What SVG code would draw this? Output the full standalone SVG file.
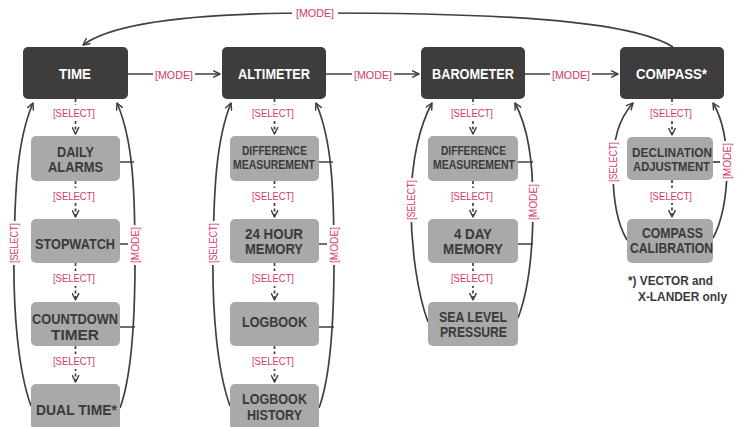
<svg xmlns="http://www.w3.org/2000/svg" width="738" height="427" viewBox="0 0 738 427">
<defs>
<marker id="arr" viewBox="0 0 10 10" refX="9" refY="5" markerWidth="8" markerHeight="8" markerUnits="userSpaceOnUse" orient="auto">
<path d="M1,1 L9,5 L1,9" fill="none" stroke="#404040" stroke-width="1.8" stroke-linecap="round" stroke-linejoin="round"/>
</marker>
<style>
.main{fill:#3e3c3d}
.sub{fill:#a9a9a9}
.mt{font-family:"Liberation Sans",Arial,sans-serif;font-weight:bold;font-size:15px;fill:#ffffff}
.st{font-family:"Liberation Sans",Arial,sans-serif;font-weight:bold;font-size:14.5px;fill:#3a3a3a}
.ss{font-family:"Liberation Sans",Arial,sans-serif;font-weight:bold;font-size:13px;fill:#3a3a3a}
.fn{font-family:"Liberation Sans",Arial,sans-serif;font-weight:bold;font-size:13px;fill:#3a3a3a}
.lb{font-family:"Liberation Sans",Arial,sans-serif;font-size:11.5px;fill:#d4376c}
.ln{fill:none;stroke:#404040;stroke-width:1.7}
.dl{fill:none;stroke:#404040;stroke-width:1.7;stroke-dasharray:3 2.5}
.bg{fill:#ffffff}
</style>
</defs>
<rect width="738" height="427" fill="#ffffff"/>

<g id="connectors">
<path class="ln" d="M673 47 C630 20, 500 13, 315 13 C180 13, 110 25, 83 45" marker-end="url(#arr)"/>
<path class="ln" d="M128 74 L220 74" marker-end="url(#arr)"/>
<path class="ln" d="M326 74 L419 74" marker-end="url(#arr)"/>
<path class="ln" d="M525 74 L618 74" marker-end="url(#arr)"/>
<!-- TIME column -->
<path class="ln" d="M31 406 C18 370, 13 310, 14 250 C15 190, 17 140, 33 103" marker-end="url(#arr)"/>
<path class="ln" d="M120 408 C131 378, 135 320, 135 260 C135 190, 133 140, 117 103" marker-end="url(#arr)"/>
<path class="ln" d="M120 162 H134 M120 244 H135 M120 327 H135"/>
<path class="dl" d="M75.5 99 V134" marker-end="url(#arr)"/>
<path class="dl" d="M75.5 181 V217" marker-end="url(#arr)"/>
<path class="dl" d="M75.5 263 V300" marker-end="url(#arr)"/>
<path class="dl" d="M75.5 346 V382" marker-end="url(#arr)"/>
<!-- ALTIMETER column -->
<path class="ln" d="M230 406 C217 370, 212 310, 213 250 C214 190, 216 140, 231 103" marker-end="url(#arr)"/>
<path class="ln" d="M319 408 C330 378, 334 320, 334 260 C334 190, 332 140, 316 103" marker-end="url(#arr)"/>
<path class="ln" d="M319 162 H333 M319 244 H334 M319 327 H334"/>
<path class="dl" d="M274.5 99 V134" marker-end="url(#arr)"/>
<path class="dl" d="M274.5 181 V217" marker-end="url(#arr)"/>
<path class="dl" d="M274.5 263 V300" marker-end="url(#arr)"/>
<path class="dl" d="M274.5 346 V382" marker-end="url(#arr)"/>
<!-- BAROMETER column -->
<path class="ln" d="M428 322 C418 295, 411 250, 411 205 C411 160, 420 125, 432 103" marker-end="url(#arr)"/>
<path class="ln" d="M518 318 C528 292, 533 250, 533 205 C533 160, 528 128, 515 103" marker-end="url(#arr)"/>
<path class="ln" d="M518 162 H533 M518 244 H533"/>
<path class="dl" d="M473 99 V134" marker-end="url(#arr)"/>
<path class="dl" d="M473 181 V217" marker-end="url(#arr)"/>
<path class="dl" d="M473 263 V300" marker-end="url(#arr)"/>
<!-- COMPASS column -->
<path class="ln" d="M627 240 C618 225, 613 200, 613 170 C613 140, 618 120, 633 103" marker-end="url(#arr)"/>
<path class="ln" d="M713 238 C722 222, 727 195, 727 168 C727 140, 723 120, 713 103" marker-end="url(#arr)"/>
<path class="ln" d="M713 162 H727"/>
<path class="dl" d="M672 99 V135" marker-end="url(#arr)"/>
<path class="dl" d="M672 180 V217" marker-end="url(#arr)"/>

<rect class="bg" x="292" y="5" width="46" height="15"/>
<text class="lb" x="296" y="17" textLength="38" lengthAdjust="spacingAndGlyphs">[MODE]</text>
<rect class="bg" x="153" y="66" width="42" height="15"/>
<text class="lb" x="155" y="78.5" textLength="38" lengthAdjust="spacingAndGlyphs">[MODE]</text>
<rect class="bg" x="352" y="66" width="42" height="15"/>
<text class="lb" x="354" y="78.5" textLength="38" lengthAdjust="spacingAndGlyphs">[MODE]</text>
<rect class="bg" x="550" y="66" width="42" height="15"/>
<text class="lb" x="552" y="78.5" textLength="38" lengthAdjust="spacingAndGlyphs">[MODE]</text>

<g>
<rect class="bg" x="52" y="105" width="46" height="15"/>
<text class="lb" x="53" y="116.5" textLength="42" lengthAdjust="spacingAndGlyphs">[SELECT]</text>
<rect class="bg" x="52" y="188" width="46" height="15"/>
<text class="lb" x="53" y="199.5" textLength="42" lengthAdjust="spacingAndGlyphs">[SELECT]</text>
<rect class="bg" x="52" y="271" width="46" height="15"/>
<text class="lb" x="53" y="282" textLength="42" lengthAdjust="spacingAndGlyphs">[SELECT]</text>
<rect class="bg" x="52" y="354" width="46" height="15"/>
<text class="lb" x="53" y="365" textLength="42" lengthAdjust="spacingAndGlyphs">[SELECT]</text>

<rect class="bg" x="251" y="105" width="46" height="15"/>
<text class="lb" x="252" y="116.5" textLength="42" lengthAdjust="spacingAndGlyphs">[SELECT]</text>
<rect class="bg" x="251" y="188" width="46" height="15"/>
<text class="lb" x="252" y="199.5" textLength="42" lengthAdjust="spacingAndGlyphs">[SELECT]</text>
<rect class="bg" x="251" y="271" width="46" height="15"/>
<text class="lb" x="252" y="282" textLength="42" lengthAdjust="spacingAndGlyphs">[SELECT]</text>
<rect class="bg" x="251" y="354" width="46" height="15"/>
<text class="lb" x="252" y="365" textLength="42" lengthAdjust="spacingAndGlyphs">[SELECT]</text>

<rect class="bg" x="449" y="105" width="46" height="15"/>
<text class="lb" x="451" y="116.5" textLength="42" lengthAdjust="spacingAndGlyphs">[SELECT]</text>
<rect class="bg" x="449" y="188" width="46" height="15"/>
<text class="lb" x="451" y="199.5" textLength="42" lengthAdjust="spacingAndGlyphs">[SELECT]</text>
<rect class="bg" x="449" y="271" width="46" height="15"/>
<text class="lb" x="451" y="282" textLength="42" lengthAdjust="spacingAndGlyphs">[SELECT]</text>

<rect class="bg" x="648" y="105" width="46" height="15"/>
<text class="lb" x="650" y="116.5" textLength="42" lengthAdjust="spacingAndGlyphs">[SELECT]</text>
<rect class="bg" x="648" y="188" width="46" height="15"/>
<text class="lb" x="650" y="199.5" textLength="42" lengthAdjust="spacingAndGlyphs">[SELECT]</text>
</g>

<g transform="translate(14 243) rotate(-90)"><rect class="bg" x="-22" y="-7" width="44" height="14"/><text class="lb" x="-20" y="4" textLength="40" lengthAdjust="spacingAndGlyphs">[SELECT]</text></g>
<g transform="translate(135 245) rotate(-90)"><rect class="bg" x="-20" y="-7" width="40" height="14"/><text class="lb" x="-18" y="4" textLength="36" lengthAdjust="spacingAndGlyphs">[MODE]</text></g>
<g transform="translate(213 243) rotate(-90)"><rect class="bg" x="-22" y="-7" width="44" height="14"/><text class="lb" x="-20" y="4" textLength="40" lengthAdjust="spacingAndGlyphs">[SELECT]</text></g>
<g transform="translate(334 245) rotate(-90)"><rect class="bg" x="-20" y="-7" width="40" height="14"/><text class="lb" x="-18" y="4" textLength="36" lengthAdjust="spacingAndGlyphs">[MODE]</text></g>
<g transform="translate(411 200) rotate(-90)"><rect class="bg" x="-22" y="-7" width="44" height="14"/><text class="lb" x="-20" y="4" textLength="40" lengthAdjust="spacingAndGlyphs">[SELECT]</text></g>
<g transform="translate(533 202) rotate(-90)"><rect class="bg" x="-20" y="-7" width="40" height="14"/><text class="lb" x="-18" y="4" textLength="36" lengthAdjust="spacingAndGlyphs">[MODE]</text></g>
<g transform="translate(613 162) rotate(-90)"><rect class="bg" x="-22" y="-7" width="44" height="14"/><text class="lb" x="-20" y="4" textLength="40" lengthAdjust="spacingAndGlyphs">[SELECT]</text></g>
<g transform="translate(727 161) rotate(-90)"><rect class="bg" x="-20" y="-7" width="40" height="14"/><text class="lb" x="-18" y="4" textLength="36" lengthAdjust="spacingAndGlyphs">[MODE]</text></g>
</g>

<g id="time"><rect class="main" x="23" y="47" width="105" height="52" rx="5"/><text class="mt" x="59" y="79" textLength="32" lengthAdjust="spacingAndGlyphs">TIME</text></g>
<g id="altimeter"><rect class="main" x="222" y="47" width="104" height="52" rx="5"/><text class="mt" x="238" y="79" textLength="72" lengthAdjust="spacingAndGlyphs">ALTIMETER</text></g>
<g id="barometer"><rect class="main" x="421" y="47" width="104" height="52" rx="5"/><text class="mt" x="432" y="79" textLength="82" lengthAdjust="spacingAndGlyphs">BAROMETER</text></g>
<g id="compass"><rect class="main" x="620" y="47" width="104" height="52" rx="5"/><text class="mt" x="636" y="79" textLength="71" lengthAdjust="spacingAndGlyphs">COMPASS*</text></g>

<g id="daily-alarms"><rect class="sub" x="31" y="136" width="89" height="45" rx="5"/><text class="st" x="57" y="157" textLength="37" lengthAdjust="spacingAndGlyphs">DAILY</text><text class="st" x="48" y="172" textLength="55" lengthAdjust="spacingAndGlyphs">ALARMS</text></g>
<g id="stopwatch"><rect class="sub" x="31" y="219" width="89" height="44" rx="5"/><text class="st" x="35" y="249" textLength="80" lengthAdjust="spacingAndGlyphs">STOPWATCH</text></g>
<g id="countdown-timer"><rect class="sub" x="31" y="302" width="89" height="44" rx="5"/><text class="st" x="32" y="324" textLength="86" lengthAdjust="spacingAndGlyphs">COUNTDOWN</text><text class="st" x="51" y="340" textLength="48" lengthAdjust="spacingAndGlyphs">TIMER</text></g>
<g id="dual-time"><rect class="sub" x="31" y="384" width="89" height="46" rx="5"/><text class="st" x="36" y="415" textLength="81" lengthAdjust="spacingAndGlyphs">DUAL TIME*</text></g>

<g id="alt-difference"><rect class="sub" x="230" y="136" width="89" height="45" rx="5"/><text class="ss" x="242" y="155" textLength="65" lengthAdjust="spacingAndGlyphs">DIFFERENCE</text><text class="ss" x="233" y="168.5" textLength="82" lengthAdjust="spacingAndGlyphs">MEASUREMENT</text></g>
<g id="hour-memory"><rect class="sub" x="230" y="219" width="89" height="44" rx="5"/><text class="st" x="245" y="239" textLength="58" lengthAdjust="spacingAndGlyphs">24 HOUR</text><text class="st" x="245" y="254" textLength="58" lengthAdjust="spacingAndGlyphs">MEMORY</text></g>
<g id="logbook"><rect class="sub" x="230" y="302" width="89" height="44" rx="5"/><text class="st" x="242" y="327" textLength="65" lengthAdjust="spacingAndGlyphs">LOGBOOK</text></g>
<g id="logbook-history"><rect class="sub" x="230" y="384" width="89" height="46" rx="5"/><text class="st" x="242" y="404" textLength="65" lengthAdjust="spacingAndGlyphs">LOGBOOK</text><text class="st" x="247" y="420" textLength="55" lengthAdjust="spacingAndGlyphs">HISTORY</text></g>

<g id="baro-difference"><rect class="sub" x="428" y="136" width="90" height="45" rx="5"/><text class="ss" x="441" y="155" textLength="65" lengthAdjust="spacingAndGlyphs">DIFFERENCE</text><text class="ss" x="433" y="168.5" textLength="82" lengthAdjust="spacingAndGlyphs">MEASUREMENT</text></g>
<g id="day-memory"><rect class="sub" x="428" y="219" width="90" height="44" rx="5"/><text class="st" x="454" y="239" textLength="38" lengthAdjust="spacingAndGlyphs">4 DAY</text><text class="st" x="443" y="254" textLength="60" lengthAdjust="spacingAndGlyphs">MEMORY</text></g>
<g id="sea-level"><rect class="sub" x="428" y="302" width="90" height="44" rx="5"/><text class="st" x="439" y="322" textLength="68" lengthAdjust="spacingAndGlyphs">SEA LEVEL</text><text class="st" x="440" y="337" textLength="67" lengthAdjust="spacingAndGlyphs">PRESSURE</text></g>

<g id="declination"><rect class="sub" x="627" y="137" width="86" height="43" rx="5"/><text class="ss" x="632" y="157" textLength="80" lengthAdjust="spacingAndGlyphs">DECLINATION</text><text class="ss" x="633" y="170.5" textLength="77" lengthAdjust="spacingAndGlyphs">ADJUSTMENT</text></g>
<g id="calibration"><rect class="sub" x="627" y="219" width="86" height="44" rx="5"/><text class="st" x="642" y="238" textLength="61" lengthAdjust="spacingAndGlyphs">COMPASS</text><text class="st" x="630" y="252.5" textLength="83" lengthAdjust="spacingAndGlyphs">CALIBRATION</text></g>

<g id="footnote">
<text class="fn" x="628" y="285" textLength="85" lengthAdjust="spacingAndGlyphs">*) VECTOR and</text>
<text class="fn" x="638" y="301" textLength="89" lengthAdjust="spacingAndGlyphs">X-LANDER only</text>
</g>
</svg>
